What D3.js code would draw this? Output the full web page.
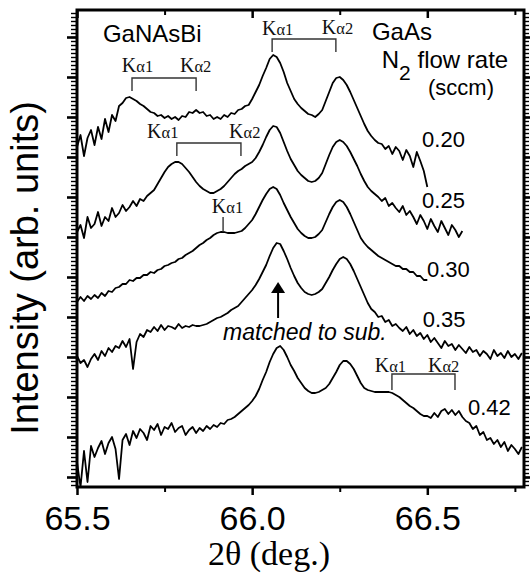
<!DOCTYPE html>
<html>
<head>
<meta charset="utf-8">
<script src="https://cdn.jsdelivr.net/npm/d3@7"></script>
<style>
body{margin:0;background:#fff;}
</style>
</head>
<body>
<script>
//DATA - 2theta grid (deg.) shared by all scans
var twoTheta=[65.50,65.51,65.52,65.53,65.54,65.55,65.56,65.57,65.58,65.59,
65.60,65.61,65.62,65.63,65.64,65.65,65.66,65.67,65.68,65.69,
65.70,65.71,65.72,65.73,65.74,65.75,65.76,65.77,65.78,65.79,
65.80,65.81,65.82,65.83,65.84,65.85,65.86,65.87,65.88,65.89,
65.90,65.91,65.92,65.93,65.94,65.95,65.96,65.97,65.98,65.99,
66.00,66.01,66.02,66.03,66.04,66.05,66.06,66.07,66.08,66.09,
66.10,66.11,66.12,66.13,66.14,66.15,66.16,66.17,66.18,66.19,
66.20,66.21,66.22,66.23,66.24,66.25,66.26,66.27,66.28,66.29,
66.30,66.31,66.32,66.33,66.34,66.35,66.36,66.37,66.38,66.39,
66.40,66.41,66.42,66.43,66.44,66.45,66.46,66.47,66.48,66.49,
66.50,66.51,66.52,66.53,66.54,66.55,66.56,66.57,66.58,66.59,
66.60,66.61,66.62,66.63,66.64,66.65,66.66,66.67,66.68,66.69,
66.70,66.71,66.72,66.73,66.74,66.75,66.76,66.77];

var flowRates=["0.20","0.25","0.30","0.35","0.42"];

// intensity (arb. units, curves already offset) - one array per N2 flow rate
var scan020=[340,352,331,349,357,342,360,348,368,355,
372,366,381,384,389,390,388,386,383,381,
378,375,374,371,372,369,371,368,370,367,
371,370,375,374,377,374,375,371,372,368,
370,368,372,370,374,373,377,378,381,382,
388,395,402,411,419,428,432,430,424,415,
404,396,388,383,379,376,373,372,370,373,
377,386,395,404,409,410,407,402,395,387,
379,371,363,356,351,347,344,343,338,341,
333,340,336,327,337,331,320,335,326,316,
300];
var scan025=[255,262,249,270,259,263,275,261,270,266,
279,270,274,282,276,280,286,281,288,286,
291,294,297,303,309,315,320,323,325,325,
323,319,315,310,305,301,298,296,294,294,
296,298,301,305,309,313,316,318,321,323,
325,329,335,342,350,357,361,360,354,345,
336,328,322,316,312,309,306,305,306,309,
314,323,332,340,345,347,345,341,335,328,
321,313,306,300,296,293,290,286,289,281,
284,279,275,281,272,276,270,263,272,266,
258,268,261,255,266,259,252,262,257,250,
256];
var scan030=[185,190,186,191,188,192,189,194,191,196,
195,199,200,203,203,207,206,209,209,212,
212,215,214,217,218,221,222,224,225,228,
229,232,234,236,239,242,244,247,249,252,
254,255,255,254,254,254,255,256,259,263,
267,273,280,287,293,298,300,298,292,284,
277,270,264,258,254,251,249,249,250,253,
257,265,273,280,285,287,285,280,273,265,
257,249,244,240,237,234,231,229,227,225,
223,221,221,218,218,215,215,211,211,207,
207];
var scan035=[131,124,127,120,128,133,127,136,131,139,
135,141,139,146,140,148,118,145,153,150,
157,155,160,156,162,157,161,160,158,163,
159,161,160,162,161,161,162,163,165,167,
169,170,172,174,177,179,181,185,189,193,
197,202,208,215,222,231,239,244,243,236,
228,219,211,204,199,195,193,192,193,195,
198,204,210,217,223,228,230,228,223,216,
208,200,192,184,178,175,170,171,165,167,
161,163,159,156,160,153,157,151,154,148,
152,145,149,144,139,146,141,143,137,142,
138,134,140,135,137,131,136,133,128,137,
131,134,129,136,130,133,128,134];
var scan042=[25,0,36,5,41,30,39,46,33,44,
50,38,8,47,53,42,56,49,58,54,
47,61,57,63,52,60,58,64,55,59,
61,52,57,60,54,59,56,61,58,62,
60,64,63,67,68,70,73,76,79,82,
86,91,98,107,115,125,133,139,141,137,
130,122,116,109,104,99,96,94,94,95,
97,99,103,109,115,122,126,126,123,118,
111,104,99,97,96,95,95,95,95,95,
94,92,90,87,84,81,79,76,73,71,
71,69,74,70,76,78,73,77,72,76,
70,66,64,58,61,52,55,47,49,43,
47,40,45,36,42,38,33,40];

var xMajorTicks=[65.5,66.0,66.5];
var xMinorTicks=[65.75,66.25,66.75];
var yMajorTicks=[10,50,90,130,170,210,250,290,330,370,410,450];

//SVG VARIABLES
var width=530, height=578;
var plotLeft=77, plotRight=524, plotTop=10, plotBottom=487;
var sans="'Liberation Sans', Arial, Helvetica, sans-serif";
var serif="'Liberation Serif', 'Times New Roman', serif";

var svg=d3.select("body").append("svg")
  .attr("width",width)
  .attr("height",height);

var x=d3.scaleLinear().domain([65.5,66.776]).range([plotLeft,plotRight]);
var y=d3.scaleLinear().domain([0,477]).range([plotBottom,plotTop]);

//AXES (ticks only, frame drawn separately)
function tickAxis(axis,pos,values,size,sw,labels){
  var g=svg.append("g").attr("transform",pos)
    .call(axis.tickValues(values).tickSize(size).tickFormat(labels?d3.format(".1f"):""));
  g.select(".domain").remove();
  g.selectAll("line").attr("stroke","#000").attr("stroke-width",sw);
  return g;
}
var yMinor=d3.range(2,477,4);
var xb=tickAxis(d3.axisBottom(x).tickPadding(11),"translate(0,"+plotBottom+")",xMajorTicks,8,2.5,true);
xb.attr("font-size",34).attr("font-family",sans);
xb.selectAll("text").attr("fill","#000");
tickAxis(d3.axisBottom(x),"translate(0,"+plotBottom+")",xMinorTicks,5,2,false);
tickAxis(d3.axisTop(x),"translate(0,"+plotTop+")",xMajorTicks,-8,2.5,false);
tickAxis(d3.axisTop(x),"translate(0,"+plotTop+")",xMinorTicks,-5,2,false);
tickAxis(d3.axisLeft(y),"translate("+plotLeft+",0)",yMinor,6,1.4,false);
tickAxis(d3.axisLeft(y),"translate("+plotLeft+",0)",yMajorTicks,10,2.6,false);
tickAxis(d3.axisRight(y),"translate("+plotRight+",0)",yMinor,5,1.4,false);
tickAxis(d3.axisRight(y),"translate("+plotRight+",0)",yMajorTicks,8,2.6,false);

svg.append("rect")
  .attr("x",plotLeft).attr("y",plotTop)
  .attr("width",plotRight-plotLeft).attr("height",plotBottom-plotTop)
  .attr("fill","none").attr("stroke","#000").attr("stroke-width",3);

//SCANS
var scans=[scan020,scan025,scan030,scan035,scan042];
var line=d3.line().x(function(d){return x(d[0]);}).y(function(d){return y(d[1]);});
svg.append("g").selectAll("path")
  .data(scans)
  .enter()
  .append("path")
  .attr("d",function(s){return line(s.map(function(v,i){return [twoTheta[i],v];}));})
  .attr("fill","none")
  .attr("stroke","#000")
  .attr("stroke-width",1.8)
  .attr("stroke-linejoin","round");

//FLOW RATE LABELS
var flowPos=[[66.485,340],[66.485,279],[66.499,210],[66.487,160],[66.616,72]];
svg.append("g").selectAll("text")
  .data(flowRates)
  .enter()
  .append("text")
  .attr("x",function(d,i){return x(flowPos[i][0]);})
  .attr("y",function(d,i){return y(flowPos[i][1]);})
  .attr("font-family",sans).attr("font-size",22)
  .text(function(d){return d;});

//K-ALPHA BRACKETS
function bracket(x1,x2,yt,yb){
  svg.append("path")
    .attr("d","M"+x(x1)+","+y(yb)+"V"+y(yt)+"H"+x(x2)+"V"+y(yb))
    .attr("fill","none").attr("stroke","#333").attr("stroke-width",1.4);
}
bracket(65.657,65.840,409,396);
bracket(66.057,66.239,448,435);
bracket(65.785,65.968,344,331);
bracket(66.399,66.579,113,97);
svg.append("line")
  .attr("x1",x(65.917)).attr("x2",x(65.917))
  .attr("y1",y(270)).attr("y2",y(255))
  .attr("stroke","#333").attr("stroke-width",1.4);

var kLabels=[[65.628,415,"1"],[65.794,415,"2"],[66.028,452,"1"],[66.199,453,"2"],
  [65.700,349,"1"],[65.934,349,"2"],[65.885,274,"1"],[66.350,115,"1"],[66.502,115,"2"]];
kLabels.forEach(function(k){
  var t=svg.append("text").attr("x",x(k[0])).attr("y",y(k[1]))
    .attr("font-family",serif).attr("fill","#111");
  t.append("tspan").attr("font-size",20).text("K");
  t.append("tspan").attr("font-size",16.5).text("\u03B1"+k[2]);
});

//MATERIAL LABELS
svg.append("text").attr("x",x(65.574)).attr("y",y(445))
  .attr("font-family",sans).attr("font-size",24).text("GaNAsBi");
svg.append("text").attr("x",x(66.342)).attr("y",y(447))
  .attr("font-family",sans).attr("font-size",24).text("GaAs");
var n2=svg.append("text").attr("x",x(66.370)).attr("y",y(419))
  .attr("font-family",sans).attr("font-size",24);
n2.append("tspan").text("N");
n2.append("tspan").attr("font-size",21).attr("dy",12).text("2");
n2.append("tspan").attr("dy",-12).text(" flow rate");
svg.append("text").attr("x",x(66.502)).attr("y",y(392))
  .attr("font-family",sans).attr("font-size",22).text("(sccm)");

//MATCHED ARROW
svg.append("line")
  .attr("x1",x(66.074)).attr("x2",x(66.074))
  .attr("y1",y(169)).attr("y2",y(196))
  .attr("stroke","#000").attr("stroke-width",2);
svg.append("path")
  .attr("d","M"+x(66.074)+","+y(205)+"L"+(x(66.074)-7)+","+y(194)+"L"+(x(66.074)+7)+","+y(194)+"Z")
  .attr("fill","#000");
svg.append("text").attr("x",x(65.917)).attr("y",y(147))
  .attr("font-family",sans).attr("font-size",23).attr("font-style","italic")
  .text("matched to sub.");

//AXIS TITLES
svg.append("text")
  .attr("transform","translate(38,268) rotate(-90)")
  .attr("text-anchor","middle")
  .attr("font-family",sans).attr("font-size",38)
  .text("Intensity (arb. units)");
svg.append("text")
  .attr("x",269).attr("y",565)
  .attr("text-anchor","middle")
  .attr("font-family",serif).attr("font-size",34)
  .text("2\u03B8 (deg.)");
</script>
</body>
</html>
